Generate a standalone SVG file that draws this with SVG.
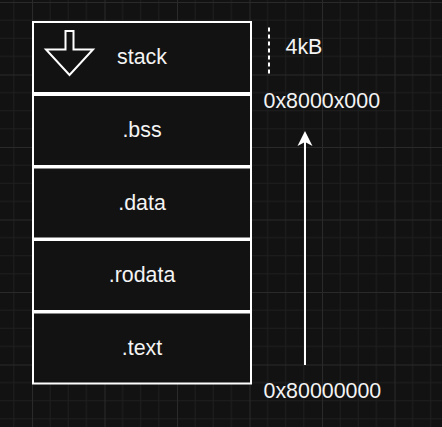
<svg xmlns="http://www.w3.org/2000/svg" width="442" height="427" viewBox="0 0 442 427">
<defs>
<pattern id="grid" x="32" y="2" width="72.5" height="72.5" patternUnits="userSpaceOnUse">
<path d="M18.125 0V72.5M36.25 0V72.5M54.375 0V72.5M0 18.125H72.5M0 36.25H72.5M0 54.375H72.5" stroke="#1f1f1f" stroke-width="1" fill="none"/>
<path d="M0.5 0V72.5M0 0.5H72.5" stroke="#2a2a2a" stroke-width="1" fill="none"/>
</pattern>
<style>
.cell{fill:#121212;stroke:#ffffff;stroke-width:2}
.lbl{font-family:"Liberation Sans",Arial,sans-serif;font-size:21.4px;fill:#f4f4f4}
.mid{text-anchor:middle}
</style>
</defs>
<rect width="442" height="427" fill="#121212"/>
<rect width="442" height="427" fill="url(#grid)"/>
<g id="stack">
<rect class="cell" x="33" y="22" width="218" height="71"/>
<polygon points="65.5,31 73.5,31 73.5,49.5 93,49.5 69.5,75 46,49.5 65.5,49.5" fill="#121212" stroke="#ffffff" stroke-width="2"/>
<text class="lbl mid" x="142" y="64">stack</text>
</g>
<g id="bss">
<rect class="cell" x="33" y="95" width="218" height="71"/>
<text class="lbl mid" x="142" y="137">.bss</text>
</g>
<g id="data">
<rect class="cell" x="33" y="167.5" width="218" height="71"/>
<text class="lbl mid" x="142" y="209.5">.data</text>
</g>
<g id="rodata">
<rect class="cell" x="33" y="240" width="218" height="71"/>
<text class="lbl mid" x="142" y="282">.rodata</text>
</g>
<g id="text">
<rect class="cell" x="33" y="312.5" width="218" height="71"/>
<text class="lbl mid" x="142" y="354.5">.text</text>
</g>
<g id="connectors">
<line x1="269" y1="27.5" x2="269" y2="76" stroke="#ffffff" stroke-width="2" stroke-dasharray="4 3"/>
<line x1="305" y1="365" x2="305" y2="140" stroke="#ffffff" stroke-width="2"/>
<path d="M305 131L312.5 146L305 142L297.5 146Z" fill="#ffffff"/>
</g>
<g id="labels">
<text class="lbl" x="285.5" y="54.3">4kB</text>
<text class="lbl" x="263.5" y="107.7">0x8000x000</text>
<text class="lbl" x="263.5" y="398.3">0x80000000</text>
</g>
</svg>
